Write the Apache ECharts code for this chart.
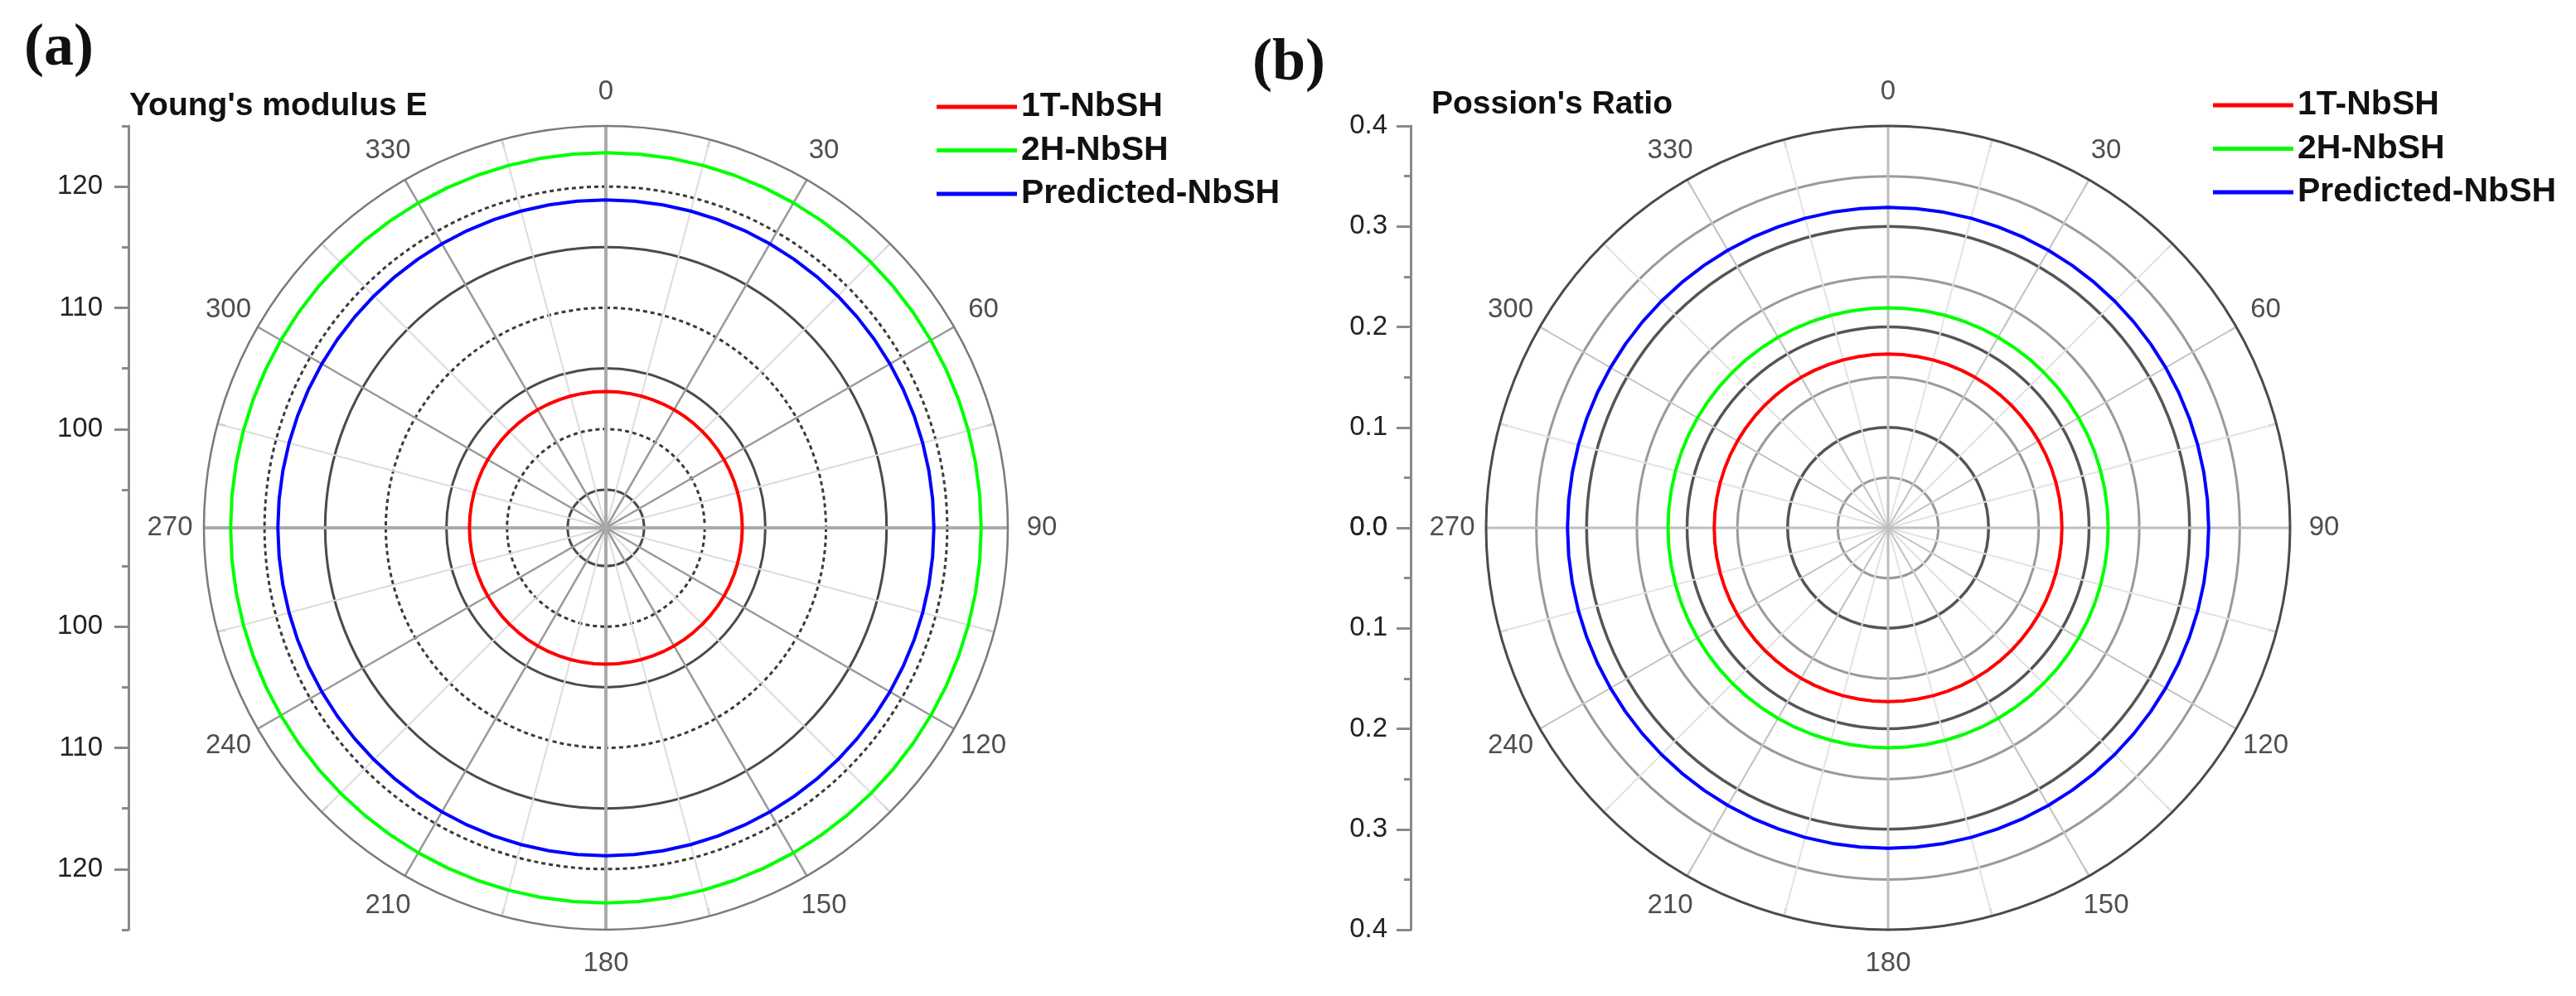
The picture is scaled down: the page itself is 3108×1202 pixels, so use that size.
<!DOCTYPE html>
<html><head><meta charset="utf-8">
<style>html,body{margin:0;padding:0;background:#fff}#c{width:3108px;height:1202px}</style>
<script src="https://cdn.jsdelivr.net/npm/echarts@6/dist/echarts.min.js"></script>
</head><body><div id="c"></div><script>
// ---------- data ----------
const ANGLES = [0,5,10,15,20,25,30,35,40,45,50,55,60,65,70,75,80,85,90,95,100,105,110,115,120,125,130,135,140,145,150,155,160,165,170,175,180,185,190,195,200,205,210,215,220,225,230,235,240,245,250,255,260,265,270,275,280,285,290,295,300,305,310,315,320,325,330,335,340,345,350,355,360];
const ANGLE_LABELS = [0,30,60,90,120,150,180,210,240,270,300,330];
const SERIES_NAMES = ['1T-NbSH','2H-NbSH','Predicted-NbSH'];
const E_MIN = 91.85, E_MAX = 125;
const E_TICKS_MAJOR = [100,110,120];
const E_TICKS_MINOR = [95,105,115,125];
const E_RINGS_SOLID = [95,105,115];
const NU_MIN = 0, NU_MAX = 0.4;
const NU_TICKS_MAJOR = [0.1,0.2,0.3];
const NU_TICKS_MINOR = [0.05,0.15,0.25,0.35];
// Young's modulus E (constant, isotropic)
const E_1T = [103.1,103.1,103.1,103.1,103.1,103.1,103.1,103.1,103.1,103.1,
103.1,103.1,103.1,103.1,103.1,103.1,103.1,103.1,103.1,103.1,
103.1,103.1,103.1,103.1,103.1,103.1,103.1,103.1,103.1,103.1,
103.1,103.1,103.1,103.1,103.1,103.1,103.1,103.1,103.1,103.1,
103.1,103.1,103.1,103.1,103.1,103.1,103.1,103.1,103.1,103.1,
103.1,103.1,103.1,103.1,103.1,103.1,103.1,103.1,103.1,103.1,
103.1,103.1,103.1,103.1,103.1,103.1,103.1,103.1,103.1,103.1,
103.1,103.1,103.1];
const E_2H = [122.8,122.8,122.8,122.8,122.8,122.8,122.8,122.8,122.8,122.8,
122.8,122.8,122.8,122.8,122.8,122.8,122.8,122.8,122.8,122.8,
122.8,122.8,122.8,122.8,122.8,122.8,122.8,122.8,122.8,122.8,
122.8,122.8,122.8,122.8,122.8,122.8,122.8,122.8,122.8,122.8,
122.8,122.8,122.8,122.8,122.8,122.8,122.8,122.8,122.8,122.8,
122.8,122.8,122.8,122.8,122.8,122.8,122.8,122.8,122.8,122.8,
122.8,122.8,122.8,122.8,122.8,122.8,122.8,122.8,122.8,122.8,
122.8,122.8,122.8];
const E_PRED = [118.9,118.9,118.9,118.9,118.9,118.9,118.9,118.9,118.9,118.9,
118.9,118.9,118.9,118.9,118.9,118.9,118.9,118.9,118.9,118.9,
118.9,118.9,118.9,118.9,118.9,118.9,118.9,118.9,118.9,118.9,
118.9,118.9,118.9,118.9,118.9,118.9,118.9,118.9,118.9,118.9,
118.9,118.9,118.9,118.9,118.9,118.9,118.9,118.9,118.9,118.9,
118.9,118.9,118.9,118.9,118.9,118.9,118.9,118.9,118.9,118.9,
118.9,118.9,118.9,118.9,118.9,118.9,118.9,118.9,118.9,118.9,
118.9,118.9,118.9];
// Poisson's ratio
const NU_1T = [0.173,0.173,0.173,0.173,0.173,0.173,0.173,0.173,0.173,0.173,
0.173,0.173,0.173,0.173,0.173,0.173,0.173,0.173,0.173,0.173,
0.173,0.173,0.173,0.173,0.173,0.173,0.173,0.173,0.173,0.173,
0.173,0.173,0.173,0.173,0.173,0.173,0.173,0.173,0.173,0.173,
0.173,0.173,0.173,0.173,0.173,0.173,0.173,0.173,0.173,0.173,
0.173,0.173,0.173,0.173,0.173,0.173,0.173,0.173,0.173,0.173,
0.173,0.173,0.173,0.173,0.173,0.173,0.173,0.173,0.173,0.173,
0.173,0.173,0.173];
const NU_2H = [0.219,0.219,0.219,0.219,0.219,0.219,0.219,0.219,0.219,0.219,
0.219,0.219,0.219,0.219,0.219,0.219,0.219,0.219,0.219,0.219,
0.219,0.219,0.219,0.219,0.219,0.219,0.219,0.219,0.219,0.219,
0.219,0.219,0.219,0.219,0.219,0.219,0.219,0.219,0.219,0.219,
0.219,0.219,0.219,0.219,0.219,0.219,0.219,0.219,0.219,0.219,
0.219,0.219,0.219,0.219,0.219,0.219,0.219,0.219,0.219,0.219,
0.219,0.219,0.219,0.219,0.219,0.219,0.219,0.219,0.219,0.219,
0.219,0.219,0.219];
const NU_PRED = [0.319,0.319,0.319,0.319,0.319,0.319,0.319,0.319,0.319,0.319,
0.319,0.319,0.319,0.319,0.319,0.319,0.319,0.319,0.319,0.319,
0.319,0.319,0.319,0.319,0.319,0.319,0.319,0.319,0.319,0.319,
0.319,0.319,0.319,0.319,0.319,0.319,0.319,0.319,0.319,0.319,
0.319,0.319,0.319,0.319,0.319,0.319,0.319,0.319,0.319,0.319,
0.319,0.319,0.319,0.319,0.319,0.319,0.319,0.319,0.319,0.319,
0.319,0.319,0.319,0.319,0.319,0.319,0.319,0.319,0.319,0.319,
0.319,0.319,0.319];

// ---------- styles / layout ----------
const FONT = "'Liberation Sans', Arial, sans-serif";
const SERIF = "'Liberation Serif', 'Times New Roman', serif";
const COLORS = ['#ff0000', '#00ff00', '#0000ff'];
const LEFT_C = [731, 637], RIGHT_C = [2278, 637], R = 485, R_LABEL = 526;

function angleAxis(pi, interval, split, extra) {
  return Object.assign({
    polarIndex: pi, type: 'value', min: 0, max: 360, interval: interval,
    startAngle: 90, clockwise: true,
    axisLine: { show: false }, axisTick: { show: false }, axisLabel: { show: false },
    splitLine: split ? { show: true, lineStyle: split } : { show: false }
  }, extra || {});
}
function radiusAxis(pi, min, max, ticks, split) {
  const o = {
    polarIndex: pi, type: 'value', min: min, max: max,
    axisLine: { show: false }, axisLabel: { show: false },
    axisTick: { show: false },
    splitLine: { show: false }
  };
  if (ticks) {
    o.axisTick = { show: false, customValues: ticks };
    o.splitLine = { show: true, lineStyle: split };
  }
  return o;
}

const polar = [
  { center: LEFT_C, radius: R }, { center: LEFT_C, radius: R }, { center: LEFT_C, radius: R }, { center: LEFT_C, radius: R_LABEL },
  { center: RIGHT_C, radius: R }, { center: RIGHT_C, radius: R }, { center: RIGHT_C, radius: R }, { center: RIGHT_C, radius: R_LABEL }
];
const angleAxes = [
  angleAxis(0, 15, { color: '#dcdcdc', width: 2 }, {
    axisLine: { show: true, lineStyle: { color: '#7a7a7a', width: 2.5 } },
    axisTick: { show: true, inside: true, length: 10, lineStyle: { color: '#666', width: 2 } }
  }),
  angleAxis(1, 30, { color: '#9a9a9a', width: 2.5 }),
  angleAxis(2, 90, { color: '#ababab', width: 4 }),
  angleAxis(3, 30, null),
  angleAxis(4, 15, { color: '#e3e3e3', width: 2 }, {
    axisLine: { show: true, lineStyle: { color: '#4a4a4a', width: 3 } },
    axisTick: { show: true, inside: true, length: 10, lineStyle: { color: '#777', width: 2 } }
  }),
  angleAxis(5, 30, { color: '#c4c4c4', width: 2 }),
  angleAxis(6, 90, { color: '#bdbdbd', width: 3 }),
  angleAxis(7, 30, null)
];
const radiusAxes = [
  radiusAxis(0, E_MIN, E_MAX),
  radiusAxis(1, E_MIN, E_MAX, E_RINGS_SOLID, { color: '#4a4a4a', width: 3 }),
  radiusAxis(2, E_MIN, E_MAX, E_TICKS_MAJOR, { color: '#3a3a3a', width: 3, type: [5, 4] }),
  radiusAxis(3, 0, 1),
  radiusAxis(4, NU_MIN, NU_MAX),
  radiusAxis(5, NU_MIN, NU_MAX, NU_TICKS_MINOR, { color: '#9a9a9a', width: 3 }),
  radiusAxis(6, NU_MIN, NU_MAX, NU_TICKS_MAJOR, { color: '#555', width: 3.5 }),
  radiusAxis(7, 0, 1)
];

// side radial scales (mirrored about the pole)
const grid = [
  { left: 155, top: 152, width: 20, height: 485 },   // E major, upper
  { left: 155, top: 637, width: 20, height: 485 },   // E major, lower
  { left: 155, top: 152, width: 20, height: 485 },   // E minor, upper
  { left: 155, top: 637, width: 20, height: 485 },   // E minor, lower
  { left: 1702, top: 152, width: 20, height: 485 },  // nu upper
  { left: 1702, top: 637, width: 20, height: 485 }   // nu lower
];
const xAxis = [0, 1, 2, 3, 4, 5].map(i => ({ gridIndex: i, type: 'value', show: false }));
const labelStyle = { fontSize: 33, color: '#222', fontFamily: FONT };
const sideLine = { color: '#8a8a8a', width: 3 };
function eMajor(gi, inverse) {
  return { gridIndex: gi, position: 'left', type: 'value', min: E_MIN, max: E_MAX, inverse: inverse,
    axisLine: { show: true, lineStyle: sideLine },
    axisTick: { show: true, customValues: E_TICKS_MAJOR, length: 17, lineStyle: sideLine },
    axisLabel: Object.assign({ customValues: E_TICKS_MAJOR, margin: 31 }, labelStyle),
    splitLine: { show: false } };
}
function eMinor(gi, inverse) {
  return { gridIndex: gi, position: 'left', type: 'value', min: E_MIN, max: E_MAX, inverse: inverse,
    axisLine: { show: false },
    axisTick: { show: true, customValues: E_TICKS_MINOR, length: 8, lineStyle: sideLine },
    axisLabel: { show: false }, splitLine: { show: false } };
}
function nuAxis(gi, inverse) {
  return { gridIndex: gi, position: 'left', type: 'value', min: NU_MIN, max: NU_MAX, interval: 0.1, inverse: inverse,
    showMinLabel: !inverse,
    axisLine: { show: true, lineStyle: sideLine },
    axisTick: { show: true, length: 17, lineStyle: sideLine },
    minorTick: { show: true, splitNumber: 2, length: 8, lineStyle: sideLine },
    axisLabel: Object.assign({ margin: 28, formatter: v => v.toFixed(1) }, labelStyle),
    splitLine: { show: false } };
}
const yAxis = [eMajor(0, false), eMajor(1, true), eMinor(2, false), eMinor(3, true), nuAxis(4, false), nuAxis(5, true)];

function curve(name, vals, pi, ci) {
  return { name: name, type: 'line', coordinateSystem: 'polar', polarIndex: pi,
    data: ANGLES.map((a, i) => [vals[i], a]), showSymbol: false, symbol: 'none',
    lineStyle: { color: COLORS[ci], width: 4 }, itemStyle: { color: COLORS[ci] },
    silent: true, z: 5 };
}
function angleLabels(pi) {
  return { type: 'scatter', coordinateSystem: 'polar', polarIndex: pi, silent: true,
    data: ANGLE_LABELS.map(a => [1, a]), symbolSize: 1, itemStyle: { color: 'rgba(0,0,0,0)' },
    label: Object.assign({ show: true, position: 'inside', formatter: p => String(p.value[1]) }, labelStyle) };
}

const series = [
  curve(SERIES_NAMES[0], E_1T, 0, 0), curve(SERIES_NAMES[1], E_2H, 0, 1), curve(SERIES_NAMES[2], E_PRED, 0, 2),
  curve(SERIES_NAMES[0], NU_1T, 4, 0), curve(SERIES_NAMES[1], NU_2H, 4, 1), curve(SERIES_NAMES[2], NU_PRED, 4, 2),
  angleLabels(3), angleLabels(7)
];

const legendText = { fontSize: 41, fontWeight: 'bold', color: '#111', fontFamily: FONT, lineHeight: 44 };
const legend = [
  { left: 1125, top: 102, orient: 'vertical', icon: 'rect', itemWidth: 97, itemHeight: 5, itemGap: 8.5,
    selectedMode: false, data: SERIES_NAMES, textStyle: legendText },
  { left: 2665, top: 100, orient: 'vertical', icon: 'rect', itemWidth: 97, itemHeight: 5, itemGap: 8.5,
    selectedMode: false, data: SERIES_NAMES, textStyle: legendText }
];
const title = [
  { text: '(a)', left: 29, top: 23, padding: 0, textStyle: { fontFamily: SERIF, fontWeight: 'bold', fontSize: 72, color: '#111' } },
  { text: '(b)', left: 1511, top: 41, padding: 0, textStyle: { fontFamily: SERIF, fontWeight: 'bold', fontSize: 72, color: '#111' } },
  { text: "Young's modulus E", left: 156, top: 109, padding: 0, textStyle: { fontFamily: FONT, fontWeight: 'bold', fontSize: 39, color: '#111' } },
  { text: "Possion's Ratio", left: 1727, top: 107, padding: 0, textStyle: { fontFamily: FONT, fontWeight: 'bold', fontSize: 39, color: '#111' } }
];

const chart = echarts.init(document.getElementById('c'), null, { renderer: 'canvas' });
chart.setOption({
  animation: false, backgroundColor: '#fff',
  title, legend, polar, angleAxis: angleAxes, radiusAxis: radiusAxes,
  grid, xAxis, yAxis, series
});
</script></body></html>
